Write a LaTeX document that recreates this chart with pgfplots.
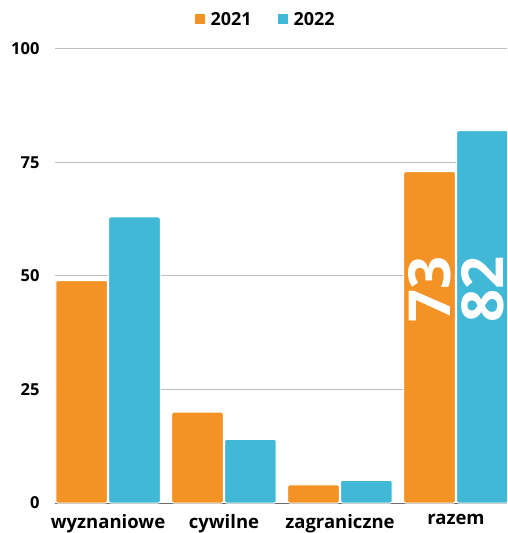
\documentclass[border=0pt]{standalone}
\usepackage{pgfplots}
\pgfplotsset{compat=1.18}
\usepackage{fontspec}
\setmainfont{Open Sans}
\definecolor{c21}{HTML}{F39325}
\definecolor{c22}{HTML}{41B8D5}
\definecolor{gridc}{HTML}{BFBFBF}
\begin{document}
\begin{tikzpicture}
\path[use as bounding box] (-55pt,-30pt) rectangle (452pt,503pt);
\begin{axis}[
  anchor=south west, at={(0pt,0pt)},
  scale only axis, width=452pt, height=454pt,
  xmin=-0.457, xmax=3.44, ymin=0, ymax=100,
  clip=true,
  axis line style={draw=none},
  major tick length=0pt,
  ytick={0,25,50,75,100},
  ymajorgrids, grid style={gridc, line width=1pt},
  extra y ticks={0}, extra y tick labels={},
  extra y tick style={grid style={gray!85!black, line width=1pt}},
  xtick={0,1,2,3},
  xticklabels={wyznaniowe,cywilne,zagraniczne,razem},
  yticklabel style={font=\fontsize{16.5}{18}\selectfont\bfseries, text=black, anchor=east, xshift=-12pt},
  xticklabel style={font=\fontsize{18.5}{20}\selectfont\bfseries, text=black, anchor=north, yshift=-8pt},
  /pgf/number format/assume math mode=true,
  legend style={at={(0.466,1.064)}, anchor=center, draw=none, fill=none,
    legend columns=2, font=\fontsize{18}{20}\selectfont\bfseries,
    /tikz/every even column/.append style={column sep=24pt}},
  legend image code/.code={\fill[#1, draw=none, sharp corners] (0pt,-4pt) rectangle (10pt,6pt); \path[draw=none, fill=none] (0pt,0pt) -- (14pt,0pt);},
  every axis plot/.append style={ybar, bar width=0.445, draw=white, line width=1pt, rounded corners=2pt},
]
\addplot[fill=c21, bar shift=-0.228] coordinates {(0,49) (1,20) (2,4) (3,73)};
\addlegendentry{2021}
\addplot[fill=c22, bar shift=0.228] coordinates {(0,63) (1,14) (2,5) (3,82)};
\addlegendentry{2022}
\node[rotate=90, inner sep=0pt, text=white, font=\fontsize{58}{58}\selectfont\bfseries, anchor=center] at (axis cs:2.772,47) {73};
\node[rotate=90, inner sep=0pt, text=white, font=\fontsize{58}{58}\selectfont\bfseries, anchor=center] at (axis cs:3.228,47) {82};
\end{axis}
\end{tikzpicture}
\end{document}
